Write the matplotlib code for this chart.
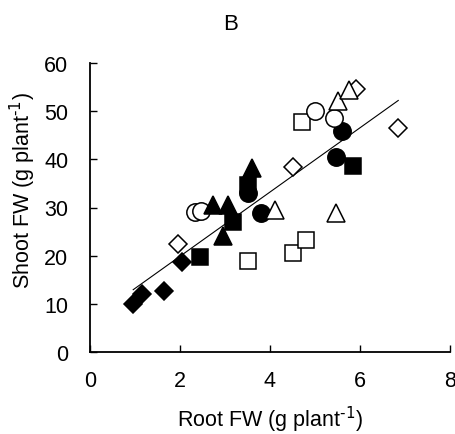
import numpy as np
import matplotlib
matplotlib.use("Agg")
import matplotlib.pyplot as plt

plt.rcParams['font.family'] = ['Liberation Sans', 'DejaVu Sans']
plt.rcParams['mathtext.default'] = 'regular'

# Data: (root FW, shoot FW) per group
diam_fill_x = [0.96, 1.16, 1.64, 2.04]
diam_fill_y = [10.0, 12.0, 12.7, 18.6]
diam_open_x = [1.96, 4.50, 6.85, 5.90]
diam_open_y = [22.4, 38.4, 46.5, 54.5]
sq_fill_x = [2.45, 3.17, 3.52, 5.85]
sq_fill_y = [19.8, 26.9, 34.6, 38.6]
sq_open_x = [3.52, 4.52, 4.80, 4.72]
sq_open_y = [18.8, 20.6, 23.2, 47.8]
circ_fill_x = [3.52, 3.80, 5.47, 5.60]
circ_fill_y = [33.0, 28.8, 40.4, 45.9]
circ_open_x = [2.33, 2.47, 5.01, 5.42]
circ_open_y = [29.0, 29.2, 50.0, 48.6]
tri_fill_x = [2.73, 3.07, 2.95, 3.59]
tri_fill_y = [30.6, 30.6, 24.0, 38.3]
tri_open_x = [4.11, 5.47, 5.50, 5.76]
tri_open_y = [29.4, 28.9, 52.1, 54.3]

xticks = [0, 2, 4, 6, 8]
yticks = [0, 10, 20, 30, 40, 50, 60]

fig = plt.figure(figsize=(4.55, 4.35), dpi=100)
ax = fig.add_axes([90/455, 1-353/435, 360/455, 289/435])

all_x = np.array(diam_fill_x + diam_open_x + sq_fill_x + sq_open_x +
                 circ_fill_x + circ_open_x + tri_fill_x + tri_open_x)
all_y = np.array(diam_fill_y + diam_open_y + sq_fill_y + sq_open_y +
                 circ_fill_y + circ_open_y + tri_fill_y + tri_open_y)
slope, intercept = np.polyfit(all_x, all_y, 1)
lx = np.array([all_x.min(), all_x.max()])
ax.plot(lx, slope*lx + intercept, color='black', lw=0.8, zorder=1)

ew = 1.1
groups = [
    (diam_fill_x, diam_fill_y, 'D', 9, 'black'),
    (diam_open_x, diam_open_y, 'D', 9, 'white'),
    (sq_fill_x, sq_fill_y, 's', 12, 'black'),
    (sq_open_x, sq_open_y, 's', 12, 'white'),
    (circ_fill_x, circ_fill_y, 'o', 12.5, 'black'),
    (circ_open_x, circ_open_y, 'o', 12.5, 'white'),
    (tri_fill_x, tri_fill_y, '^', 12.5, 'black'),
    (tri_open_x, tri_open_y, '^', 12.5, 'white'),
]
for gx, gy, m, ms, fc in groups:
    ax.plot(gx, gy, linestyle='none', marker=m, markersize=ms,
            markerfacecolor=fc, markeredgecolor='black', markeredgewidth=ew,
            zorder=2)

ax.set_xlim(0, 8)
ax.set_ylim(0, 60)
ax.set_xticks(xticks)
ax.set_yticks(yticks)
ax.spines['top'].set_visible(False)
ax.spines['right'].set_visible(False)
for s in ['left', 'bottom']:
    ax.spines[s].set_linewidth(1.3)
ax.tick_params(direction='in', length=5, width=1.0, labelsize=15.5)
ax.tick_params(axis='x', pad=13)
ax.tick_params(axis='y', pad=15.5)
for lab in ax.get_xticklabels() + ax.get_yticklabels():
    lab.set_clip_on(False)

sup = r'$^{\text{-1}}$'
fig.text(231/455, 1-24/435, 'B', ha='center', va='center', fontsize=16)
fig.text(270/455, 1-420/435, 'Root FW (g plant' + sup + ')', ha='center',
         va='center', fontsize=15.5)
fig.text(23/455, 1-191/435, 'Shoot FW (g plant' + sup + ')', ha='center',
         va='center', fontsize=15.5, rotation=90)

fig.savefig('out.png', dpi=100)
